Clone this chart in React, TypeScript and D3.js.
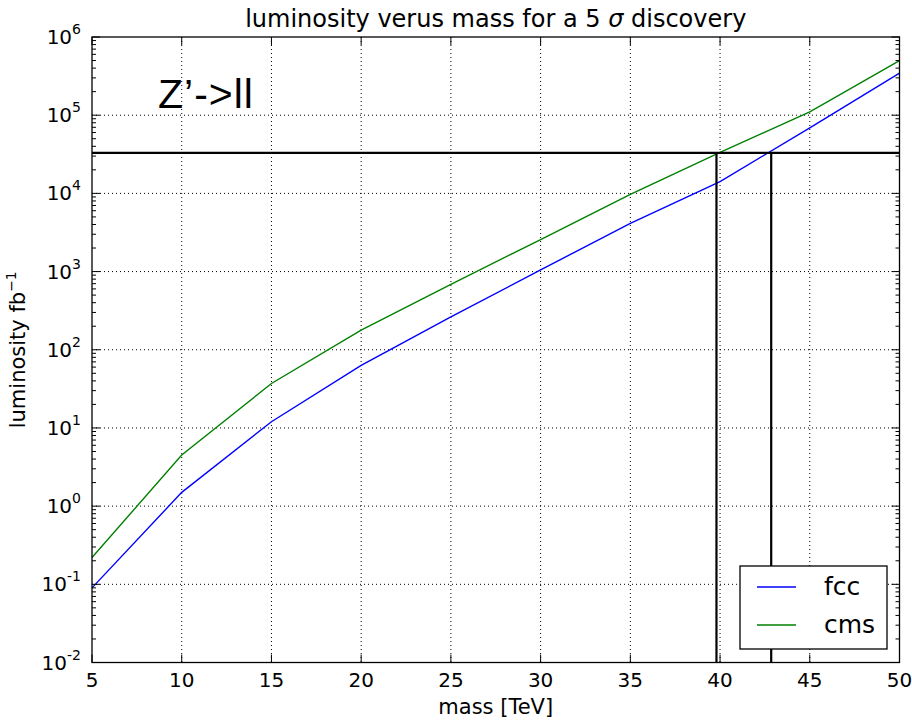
import React from "react";
import * as d3 from "d3";

const masses = [5, 10, 15, 20, 25, 30, 35, 40, 45, 50];
const fccValues = [0.09, 1.5, 12, 63, 263, 1050, 4140, 14100, 69000, 345000];
const cmsValues = [0.22, 4.5, 37, 178, 686, 2570, 9700, 33500, 110000, 500000];
const xTicks = [5, 10, 15, 20, 25, 30, 35, 40, 45, 50];
const yExponents = [-2, -1, 0, 1, 2, 3, 4, 5, 6];
const thresholdLumi = 33000;
const crossMasses = [39.8, 42.85];
const seriesNames = ["fcc", "cms"];
const seriesColors = ["#0000ff", "#008000"];

const W = 912;
const H = 721;
const M = { left: 92, right: 899.5, top: 37, bottom: 662.5 };
const FONT = "'DejaVu Sans', sans-serif";

export default function App() {
  const x = d3.scaleLinear().domain([5, 50]).range([M.left, M.right]);
  const y = d3.scaleLog().domain([1e-2, 1e6]).range([M.bottom, M.top]);

  const line = d3
    .line<[number, number]>()
    .x((d) => x(d[0]))
    .y((d) => y(d[1]));

  const series = [fccValues, cmsValues].map((vals) =>
    masses.map((m, i) => [m, vals[i]] as [number, number])
  );

  const minorY: number[] = [];
  for (let e = -2; e < 6; e++) {
    for (let k = 2; k <= 9; k++) minorY.push(k * Math.pow(10, e));
  }

  const yh = y(thresholdLumi);

  return (
    <svg
      width={W}
      height={H}
      style={{ position: "absolute", left: 0, top: 0, background: "#fff" }}
      fontFamily={FONT}
    >
      <rect x={0} y={0} width={W} height={H} fill="#fff" />
      {/* grid */}
      {xTicks.slice(1, -1).map((t) => (
        <line
          key={"gx" + t}
          x1={x(t)}
          x2={x(t)}
          y1={M.top}
          y2={M.bottom}
          stroke="#000"
          strokeWidth={1}
          strokeDasharray="1,3"
        />
      ))}
      {yExponents.slice(1, -1).map((e) => (
        <line
          key={"gy" + e}
          x1={M.left}
          x2={M.right}
          y1={y(Math.pow(10, e))}
          y2={y(Math.pow(10, e))}
          stroke="#000"
          strokeWidth={1}
          strokeDasharray="1,3"
        />
      ))}
      {/* data lines */}
      {series.map((s, i) => (
        <path
          key={seriesNames[i]}
          d={line(s) || ""}
          fill="none"
          stroke={seriesColors[i]}
          strokeWidth={1.4}
        />
      ))}
      {/* threshold lines */}
      <line x1={M.left} x2={M.right} y1={yh} y2={yh} stroke="#000" strokeWidth={2.2} />
      {crossMasses.map((m) => (
        <line
          key={"v" + m}
          x1={x(m)}
          x2={x(m)}
          y1={yh}
          y2={M.bottom}
          stroke="#000"
          strokeWidth={2.2}
        />
      ))}
      {/* ticks */}
      {xTicks.map((t) => (
        <g key={"tx" + t}>
          <line x1={x(t)} x2={x(t)} y1={M.bottom} y2={M.bottom - 8} stroke="#000" />
          <line x1={x(t)} x2={x(t)} y1={M.top} y2={M.top + 8} stroke="#000" />
          <text x={x(t)} y={687} fontSize={20} textAnchor="middle" fill="#000">
            {t}
          </text>
        </g>
      ))}
      {yExponents.map((e) => {
        const yy = y(Math.pow(10, e));
        return (
          <g key={"ty" + e}>
            <line x1={M.left} x2={M.left + 8} y1={yy} y2={yy} stroke="#000" />
            <line x1={M.right} x2={M.right - 8} y1={yy} y2={yy} stroke="#000" />
            <text x={81} y={yy + 7} fontSize={20} textAnchor="end" fill="#000">
              10
              <tspan dy={-10} fontSize={14}>
                {e < 0 ? "-" + Math.abs(e) : String(e)}
              </tspan>
            </text>
          </g>
        );
      })}
      {minorY.map((v, i) => (
        <g key={"my" + i}>
          <line x1={M.left} x2={M.left + 4} y1={y(v)} y2={y(v)} stroke="#000" />
          <line x1={M.right} x2={M.right - 4} y1={y(v)} y2={y(v)} stroke="#000" />
        </g>
      ))}
      {/* frame */}
      <rect
        x={M.left}
        y={M.top}
        width={M.right - M.left}
        height={M.bottom - M.top}
        fill="none"
        stroke="#000"
        strokeWidth={1.3}
      />
      {/* annotation */}
      <text
        x={158}
        y={108}
        fontSize={41}
        fontFamily="'Liberation Sans', Arial, sans-serif"
        fill="#000"
        letterSpacing={1}
      >
        Z’-&gt;ll
      </text>
      {/* title */}
      <text x={(M.left + M.right) / 2} y={27} fontSize={24} textAnchor="middle" fill="#000">
        luminosity verus mass for a 5 <tspan fontStyle="italic">σ</tspan> discovery
      </text>
      {/* axis labels */}
      <text x={(M.left + M.right) / 2} y={714} fontSize={21} textAnchor="middle" fill="#000">
        mass [TeV]
      </text>
      <text
        transform={`translate(25,${(M.top + M.bottom) / 2}) rotate(-90)`}
        fontSize={21}
        textAnchor="middle"
        fill="#000"
      >
        luminosity fb
        <tspan dy={-9} fontSize={14}>
          −1
        </tspan>
      </text>
      {/* legend */}
      <rect x={740} y={566} width={147} height={83} fill="#fff" stroke="#000" strokeWidth={1.3} />
      {seriesNames.map((n, i) => {
        const ly = 587 + i * 38;
        return (
          <g key={"lg" + n}>
            <line x1={757} x2={796} y1={ly} y2={ly} stroke={seriesColors[i]} strokeWidth={1.4} />
            <text x={824} y={ly + 8} fontSize={25} fill="#000">
              {n}
            </text>
          </g>
        );
      })}
    </svg>
  );
}
